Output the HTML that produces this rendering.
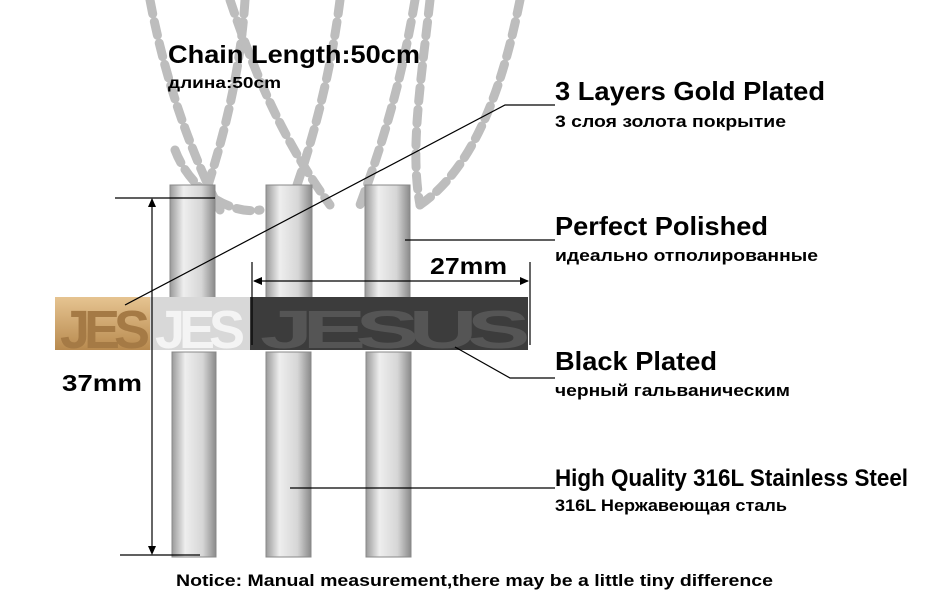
<!DOCTYPE html>
<html><head><meta charset="utf-8"><style>
body{margin:0;background:#fff;width:950px;height:600px;overflow:hidden}
svg{display:block}
text{font-family:"Liberation Sans","DejaVu Sans",sans-serif;font-weight:bold;fill:#000}
</style></head><body>
<svg width="950" height="600" viewBox="0 0 950 600">
<defs>
<linearGradient id="st" x1="0" x2="1"><stop offset="0" stop-color="#9a9a9a"/><stop offset=".3" stop-color="#eee"/><stop offset=".7" stop-color="#d6d6d6"/><stop offset="1" stop-color="#8a8a8a"/></linearGradient>
<linearGradient id="gd" x1="0" y1="0" x2="0" y2="1"><stop offset="0" stop-color="#e6c491"/><stop offset="1" stop-color="#b88a4f"/></linearGradient>
</defs>
<g fill="none" stroke="#bdbdbd" stroke-width="9" stroke-linecap="round" stroke-dasharray="14 8">
<path d="M150 0 C165 80 190 150 220 210"/>
<path d="M245 0 C240 80 220 150 200 210"/>
<path d="M230 0 C260 90 290 150 330 205"/>
<path d="M340 0 C330 80 310 150 290 205"/>
<path d="M415 0 C400 90 380 150 360 205"/>
<path d="M430 0 C420 90 410 150 420 205"/>
<path d="M520 0 C500 100 470 170 420 205"/>
<path d="M175 150 C190 190 230 215 260 210"/>
</g>
<g fill="url(#st)" stroke="#888" stroke-width="1">
<rect x="170" y="185" width="45" height="115"/>
<rect x="266" y="185" width="46" height="115"/>
<rect x="365" y="185" width="45" height="115"/>
<rect x="172" y="352" width="44" height="205"/>
<rect x="266" y="352" width="45" height="205"/>
<rect x="366" y="352" width="45" height="205"/>
</g>
<rect x="55" y="297" width="100" height="53" fill="url(#gd)"/>
<rect x="150" y="297" width="105" height="53" fill="#d8d8d8"/>
<rect x="250" y="297" width="278" height="53" fill="#3c3c3c"/>
<g font-size="54" letter-spacing="-6">
<text x="60" y="348" style="fill:#a57a45">JES</text>
<text x="155" y="348" style="fill:#f4f4f4">JES</text>
<text x="260" y="348" textLength="260" lengthAdjust="spacingAndGlyphs" style="fill:#555">JESUS</text>
</g>
<g stroke="#000" stroke-width="1.2" fill="none">
<polyline points="555,105 505,105 125,305"/>
<line x1="405" y1="240" x2="555" y2="240"/>
<line x1="252" y1="262" x2="252" y2="345"/>
<line x1="530" y1="262" x2="530" y2="345"/>
<line x1="254" y1="281" x2="528" y2="281"/>
<polyline points="555,378 510,378 455,347"/>
<line x1="290" y1="488" x2="555" y2="488"/>
<line x1="152" y1="199" x2="152" y2="553"/>
<line x1="115" y1="198" x2="215" y2="198"/>
<line x1="120" y1="555" x2="200" y2="555"/>
</g>
<g fill="#000">
<polygon points="253,281 262,277 262,285"/><polygon points="529,281 520,277 520,285"/>
<polygon points="152,198 148,207 156,207"/><polygon points="152,555 148,546 156,546"/>
</g>
<text x="168" y="63" font-size="25" textLength="252" lengthAdjust="spacingAndGlyphs">Chain Length:50cm</text>
<text x="168" y="88" font-size="16" textLength="113" lengthAdjust="spacingAndGlyphs">длина:50cm</text>
<text x="555" y="100" font-size="26" textLength="270" lengthAdjust="spacingAndGlyphs">3 Layers Gold Plated</text>
<text x="555" y="127" font-size="17" textLength="231" lengthAdjust="spacingAndGlyphs">3 слоя золота покрытие</text>
<text x="555" y="235" font-size="26" textLength="213" lengthAdjust="spacingAndGlyphs">Perfect Polished</text>
<text x="555" y="261" font-size="17" textLength="263" lengthAdjust="spacingAndGlyphs">идеально отполированные</text>
<text x="430" y="274" font-size="23" textLength="77" lengthAdjust="spacingAndGlyphs">27mm</text>
<text x="555" y="370" font-size="26" textLength="162" lengthAdjust="spacingAndGlyphs">Black Plated</text>
<text x="555" y="396" font-size="17" textLength="235" lengthAdjust="spacingAndGlyphs">черный гальваническим</text>
<text x="62" y="391" font-size="23" textLength="80" lengthAdjust="spacingAndGlyphs">37mm</text>
<text x="555" y="486" font-size="24" textLength="353" lengthAdjust="spacingAndGlyphs">High Quality 316L Stainless Steel</text>
<text x="555" y="511" font-size="17" textLength="232" lengthAdjust="spacingAndGlyphs">316L Нержавеющая сталь</text>
<text x="176" y="586" font-size="17" textLength="597" lengthAdjust="spacingAndGlyphs">Notice:  Manual measurement,there may be a little tiny difference</text>
</svg>
</body></html>
